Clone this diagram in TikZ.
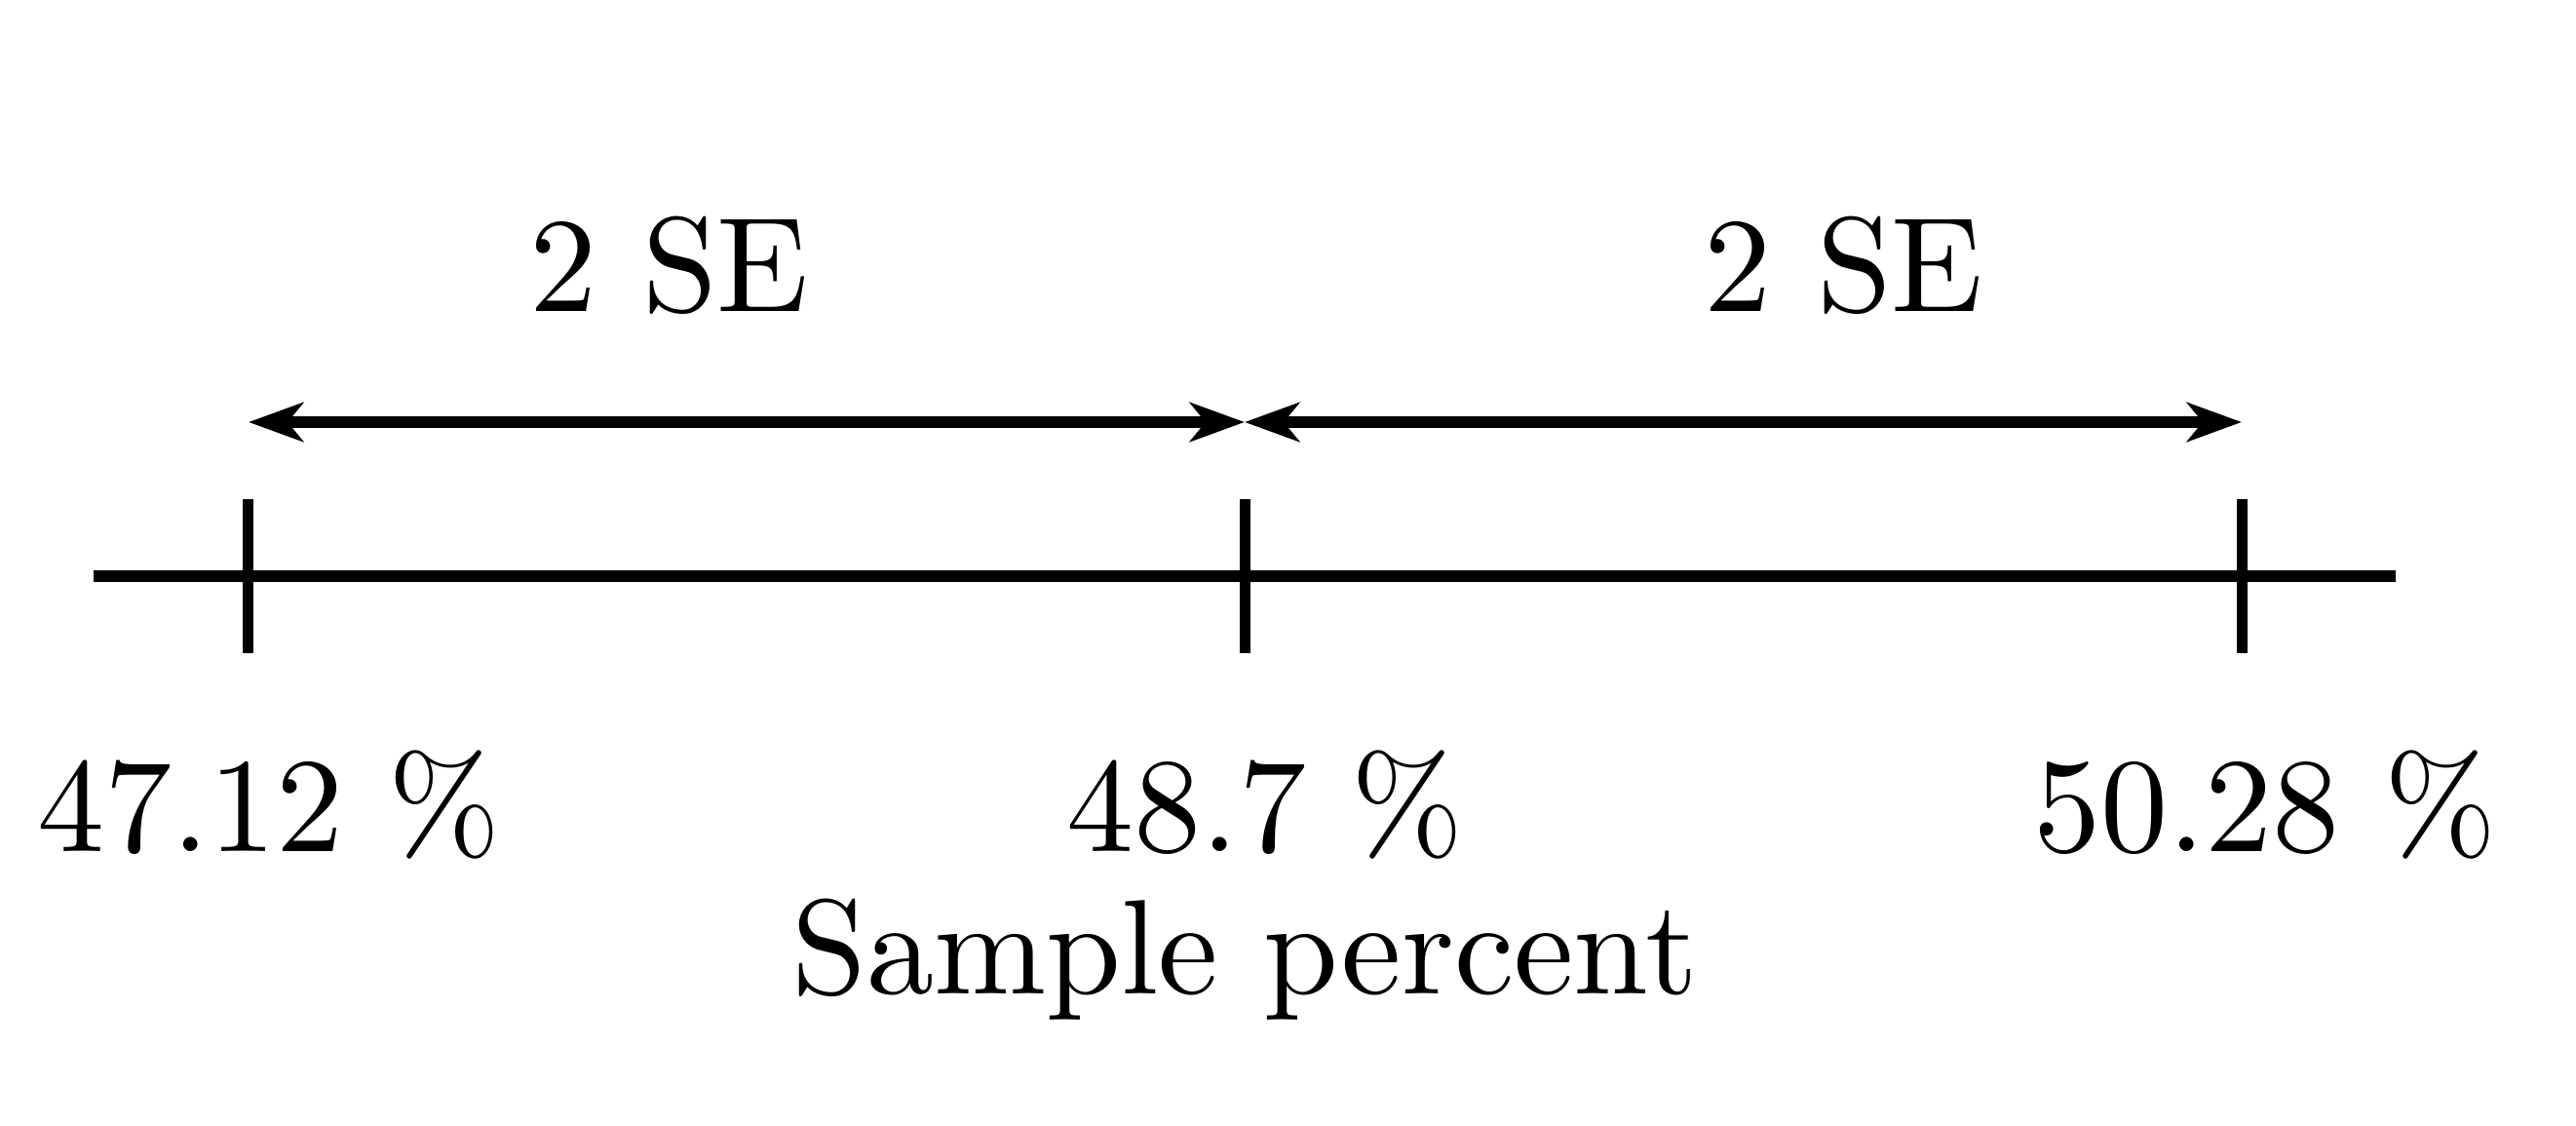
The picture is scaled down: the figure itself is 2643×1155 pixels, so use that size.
\documentclass[tikz,border=0pt]{standalone}
\usetikzlibrary{arrows.meta}
\begin{document}
\begin{tikzpicture}[x=0.01cm,y=-0.01cm,
  lbl/.style={font=\fontsize{10}{12}\selectfont, scale=3.93, inner sep=0pt, anchor=base},
  thick line/.style={line width=0.11cm},
  tipa/.style={{Stealth[length=0.56cm,width=0.40cm,inset=0.16cm]}-{Stealth[length=0.56cm,width=0.40cm,inset=0.16cm]}}]
\useasboundingbox (0,0) rectangle (2643,1155);
% axis
\coordinate (aL) at (96,591);
\coordinate (aR) at (2458,591);
\draw[thick line] (aL) -- (aR);
% ticks
\coordinate (t1t) at (254,512); \coordinate (t1b) at (254,670);
\coordinate (t2t) at (1277,512); \coordinate (t2b) at (1277,670);
\coordinate (t3t) at (2300,512); \coordinate (t3b) at (2300,670);
\draw[thick line] (t1t) -- (t1b);
\draw[thick line] (t2t) -- (t2b);
\draw[thick line] (t3t) -- (t3b);
% arrows
\coordinate (p1) at (255,433);
\coordinate (p2) at (1277,433);
\coordinate (p3) at (2300,433);
\draw[thick line,tipa] (p1) -- (p2);
\draw[thick line,tipa] (p2) -- (p3);
% labels
\node[lbl] (se1) at (687,320) {2 SE};
\node[lbl] (se2) at (1892,320) {2 SE};
\node[lbl] (v1) at (276,873) {47.12 \%};
\node[lbl] (v2) at (1298,873) {48.7 \%};
\node[lbl] (v3) at (2324,873) {50.28 \%};
\node[lbl] (xl) at (1277,1019) {Sample percent};
\end{tikzpicture}
\end{document}
